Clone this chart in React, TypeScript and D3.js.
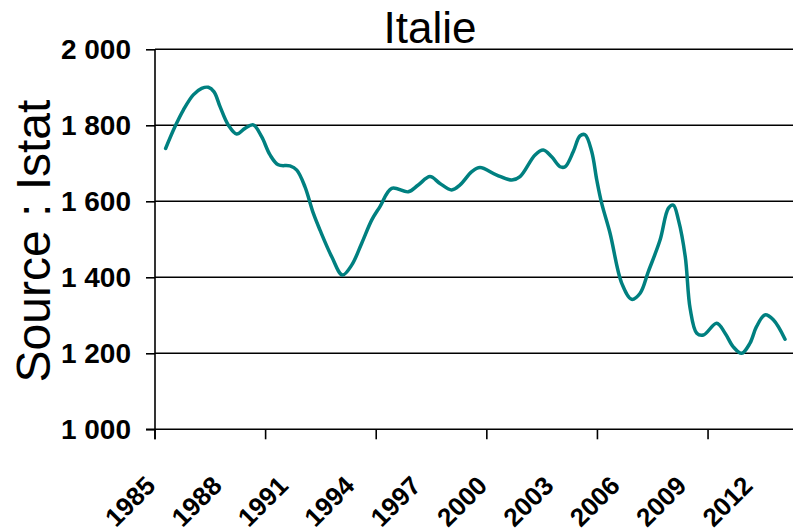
import React, { useEffect, useRef } from 'react';
import * as d3 from 'd3';

const title = 'Italie';
const yLabel = 'Source : Istat';

// points (fractional year, value)
const years = [
  1985.48, 1985.9, 1986.28, 1986.73, 1987.11, 1987.41, 1987.67, 1987.94, 1988.31, 1988.69,
  1989.07, 1989.44, 1989.82, 1990.2, 1990.57, 1991.1, 1991.41, 1991.78, 1992.16, 1992.46,
  1992.99, 1993.47, 1993.89, 1994.34, 1994.8, 1995.17, 1995.7, 1996.45, 1996.9, 1997.43,
  1997.88, 1998.41, 1998.79, 1999.32, 1999.69, 2000.45, 2001.13, 2001.5, 2002.18, 2002.55,
  2002.93, 2003.31, 2003.54, 2003.91, 2004.21, 2004.44, 2004.74, 2004.97, 2005.19, 2005.57,
  2006.1, 2006.55, 2006.93, 2007.3, 2007.83, 2008.21, 2008.43, 2008.66, 2008.97, 2009.19,
  2009.49, 2009.79, 2010.39, 2010.77, 2011.14, 2011.52, 2011.89, 2012.19, 2012.57, 2012.95,
  2013.48,
];
const values = [
  1739, 1796, 1840, 1880, 1897, 1900, 1888, 1849, 1801, 1777,
  1792, 1801, 1770, 1722, 1696, 1693, 1682, 1638, 1568, 1524,
  1454, 1406, 1432, 1489, 1551, 1586, 1634, 1625, 1643, 1665,
  1647, 1630, 1643, 1678, 1689, 1669, 1656, 1665, 1722, 1735,
  1717, 1691, 1691, 1731, 1772, 1775, 1731, 1656, 1595, 1516,
  1384, 1342, 1358, 1415, 1498, 1582, 1590, 1551, 1454, 1318,
  1253, 1248, 1279, 1253, 1217, 1200, 1226, 1270, 1301, 1288,
  1237,
];

const yTicks = [1000, 1200, 1400, 1600, 1800, 2000];
const xLabelYears = [1985, 1988, 1991, 1994, 1997, 2000, 2003, 2006, 2009, 2012];
const xTickYears = [1985, 1990, 1995, 2000, 2005, 2010];

const App = () => {
  const ref = useRef<SVGSVGElement>(null);

  useEffect(() => {
    const svg = d3.select(ref.current);
    svg.selectAll('*').remove();

    const left = 155, right = 793, top = 49.3, bottom = 429.3;

    const x = d3.scaleLinear().domain([1985, 2013.84]).range([left, right]);
    const y = d3.scaleLinear().domain([1000, 2000]).range([bottom, top]);

    const font = 'Liberation Sans, Arial, sans-serif';

    // gridlines
    svg.append('g')
      .selectAll('line')
      .data(yTicks.slice(1))
      .enter()
      .append('line')
      .attr('x1', left)
      .attr('x2', right)
      .attr('y1', d => y(d))
      .attr('y2', d => y(d))
      .attr('stroke', '#000')
      .attr('stroke-width', 1.6);

    // y axis
    const yAxis = svg.append('g')
      .attr('transform', `translate(${left},0)`)
      .call(d3.axisLeft(y).tickValues(yTicks).tickSize(9).tickPadding(15)
        .tickFormat(d => d3.format(',')(d as number).replace(',', ' ')));
    yAxis.select('.domain').attr('stroke', '#000').attr('stroke-width', 1.6)
      .attr('d', `M0,${top}V${bottom + 10}`);
    yAxis.selectAll('.tick line').attr('stroke', '#000').attr('stroke-width', 1.6);
    yAxis.selectAll('.tick text')
      .attr('font-family', font)
      .attr('font-weight', 'bold')
      .attr('font-size', 28)
      .attr('fill', '#000');

    // x axis
    svg.append('line')
      .attr('x1', left - 9)
      .attr('x2', right)
      .attr('y1', bottom)
      .attr('y2', bottom)
      .attr('stroke', '#000')
      .attr('stroke-width', 1.6);

    svg.append('g')
      .selectAll('line')
      .data(xTickYears)
      .enter()
      .append('line')
      .attr('x1', d => x(d))
      .attr('x2', d => x(d))
      .attr('y1', bottom)
      .attr('y2', bottom + 10)
      .attr('stroke', '#000')
      .attr('stroke-width', 1.6);

    svg.append('g')
      .selectAll('text')
      .data(xLabelYears)
      .enter()
      .append('text')
      .attr('transform', d => `translate(${x(d) + 2},${bottom + 58}) rotate(-45)`)
      .attr('text-anchor', 'end')
      .attr('font-family', font)
      .attr('font-weight', 'bold')
      .attr('font-size', 26)
      .text(d => d);

    // line
    const pts = years.map((yr, i) => [yr, values[i]] as [number, number]);
    svg.append('path')
      .datum(pts)
      .attr('fill', 'none')
      .attr('stroke', '#008080')
      .attr('stroke-width', 3.5)
      .attr('stroke-linejoin', 'round')
      .attr('stroke-linecap', 'round')
      .attr('d', d3.line<[number, number]>()
        .x(d => x(d[0]))
        .y(d => y(d[1]))
        .curve(d3.curveCatmullRom.alpha(0.5)));

    // title
    svg.append('text')
      .attr('x', 430)
      .attr('y', 43)
      .attr('text-anchor', 'middle')
      .attr('font-family', font)
      .attr('font-size', 44)
      .text(title);

    // y label
    svg.append('text')
      .attr('transform', `translate(50,241) rotate(-90)`)
      .attr('text-anchor', 'middle')
      .attr('font-family', font)
      .attr('font-size', 48)
      .text(yLabel);
  }, []);

  return (
    <svg ref={ref} width={793} height={532}
      style={{ position: 'absolute', left: 0, top: 0, background: '#fff' }} />
  );
};

export default App;
